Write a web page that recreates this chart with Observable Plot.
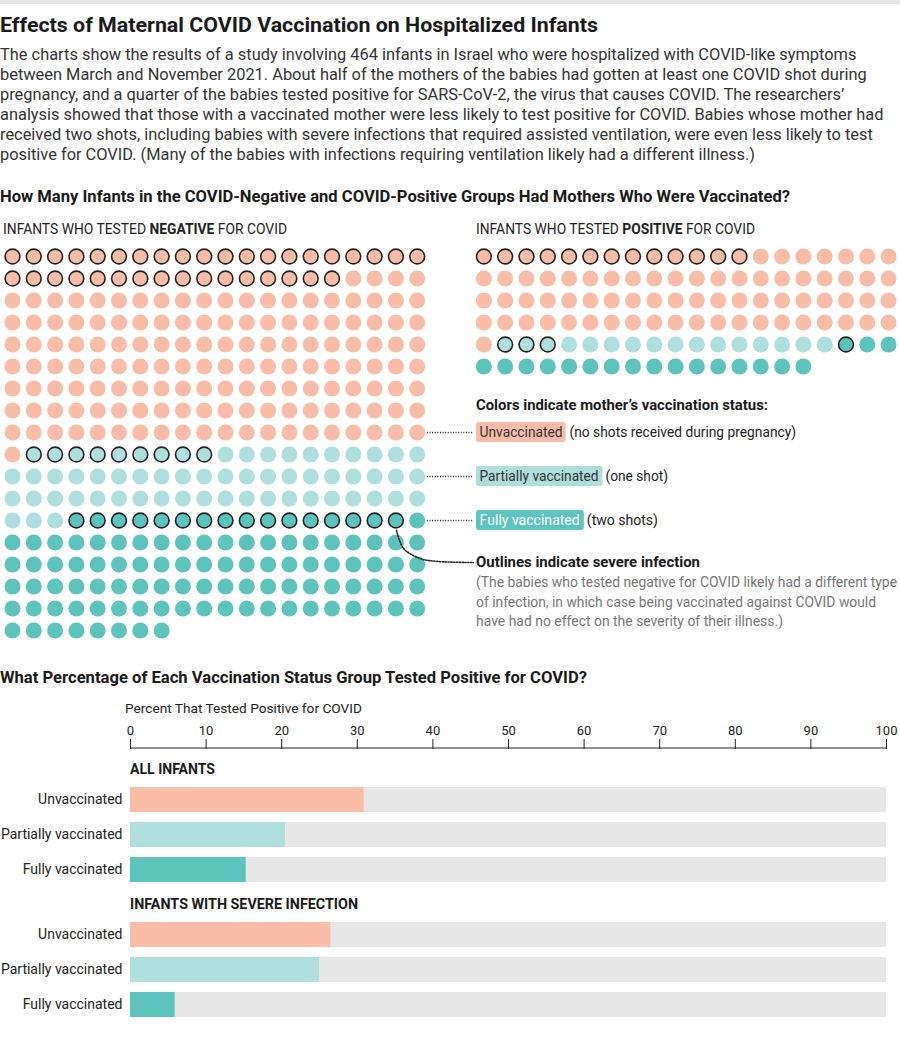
<!DOCTYPE html>
<html><head><meta charset="utf-8">
<script src="https://cdn.jsdelivr.net/npm/d3@7"></script>
<script src="https://cdn.jsdelivr.net/npm/@observablehq/plot@0.6"></script>
<style>
html,body{margin:0;padding:0;background:#fff;}
#root{position:relative;width:900px;height:1048px;overflow:hidden;font-family:Roboto,"Noto Sans",sans-serif;color:#333;}
.abs{position:absolute;white-space:nowrap;}
.hd{font-family:Roboto,"Noto Sans",sans-serif;font-weight:700;color:#1a1a1a;}
.tag{display:inline-block;padding:0 4px;border-radius:3px;line-height:20px;}
</style>
</head><body>
<div id="root"></div>
<script>
// ---------- data ----------
const statuses = ["Unvaccinated", "Partially vaccinated", "Fully vaccinated"];
const colors = ["#f9bda7", "#aedfdc", "#5cc4bd"];
// waffle counts (infants), in status order
const negSevere = [36, 9, 16];
const negMild = [145, 53, 89];
const posSevere = [13, 3, 1];
const posMild = [68, 13, 18];
// percent that tested positive
const pctAll = [30.9, 20.5, 15.3];
const pctSevere = [26.5, 25.0, 5.9];
const xTicks = [0, 10, 20, 30, 40, 50, 60, 70, 80, 90, 100];

const bodyLines = [
  "The charts show the results of a study involving 464 infants in Israel who were hospitalized with COVID-like symptoms",
  "between March and November 2021. About half of the mothers of the babies had gotten at least one COVID shot during",
  "pregnancy, and a quarter of the babies tested positive for SARS-CoV-2, the virus that causes COVID. The researchers’",
  "analysis showed that those with a vaccinated mother were less likely to test positive for COVID. Babies whose mother had",
  "received two shots, including babies with severe infections that required assisted ventilation, were even less likely to test",
  "positive for COVID. (Many of the babies with infections requiring ventilation likely had a different illness.)"
];
const noteLines = [
  "(The babies who tested negative for COVID likely had a different type",
  "of infection, in which case being vaccinated against COVID would",
  "have had no effect on the severity of their illness.)"
];

// ---------- layout helpers ----------
const root = document.getElementById("root");
function add(html, css, cls = "abs", fit) {
  const d = document.createElement("div");
  d.className = cls;
  d.innerHTML = html;
  Object.assign(d.style, css);
  root.appendChild(d);
  if (fit) {
    const w = d.getBoundingClientRect().width;
    if (w > 0) { d.style.transformOrigin = "0 0"; d.style.transform = `scaleX(${fit / w})`; }
  }
  return d;
}
function place(node, left, top) {
  const w = document.createElement("div");
  w.className = "abs";
  w.style.left = left + "px"; w.style.top = top + "px";
  w.appendChild(node);
  root.appendChild(w);
}

add("", {left: "0px", top: "0px", width: "900px", height: "4px", background: "#e6e6e6"});
add("Effects of Maternal COVID Vaccination on Hospitalized Infants",
  {left: "0px", top: "12px", fontSize: "20.5px", lineHeight: "26px"}, "abs hd", 598);
bodyLines.forEach((l, i) => add(l, {left: "0px", top: (45 + i * 19.95) + "px", fontSize: "16.4px", lineHeight: "20px", color: "#333"}));
add("How Many Infants in the COVID-Negative and COVID-Positive Groups Had Mothers Who Were Vaccinated?",
  {left: "0px", top: "184px", fontSize: "17px", lineHeight: "24px"}, "abs hd", 790);
add("INFANTS WHO TESTED <b>NEGATIVE</b> FOR COVID",
  {left: "3px", top: "220px", fontSize: "14.5px", lineHeight: "20px", color: "#222"}, "abs", 284);
add("INFANTS WHO TESTED <b>POSITIVE</b> FOR COVID",
  {left: "476px", top: "220px", fontSize: "14.5px", lineHeight: "20px", color: "#222"}, "abs", 279);

// ---------- waffle ----------
const perRow = 20;
const posOffset = 22.13; // column offset of the positive group
function cellsFor(severe, mild, offset, group) {
  const out = [];
  let i = 0;
  statuses.forEach((s, k) => {
    for (let j = 0; j < severe[k]; j++, i++) out.push({group, status: s, severe: true, cx: offset + (i % perRow), row: Math.floor(i / perRow)});
    for (let j = 0; j < mild[k]; j++, i++) out.push({group, status: s, severe: false, cx: offset + (i % perRow), row: Math.floor(i / perRow)});
  });
  return out;
}
const cells = [...cellsFor(negSevere, negMild, 0, "negative"), ...cellsFor(posSevere, posMild, posOffset, "positive")];
const legendCol = 21.64;
const leaders = [{status: "Unvaccinated", row: 8}, {status: "Partially vaccinated", row: 10}, {status: "Fully vaccinated", row: 12}];
const curvePts = [{x: 18.03, y: 12.45}, {x: 18.36, y: 13.27}, {x: 19.15, y: 13.73}, {x: 19.95, y: 13.86}, {x: legendCol, y: 13.91}];

const waffle = Plot.plot({
  width: 900, height: 405, margin: 0,
  x: {domain: [-0.5634, 41.69], range: [0, 900], axis: null},
  y: {domain: [-0.7273, 17.682], range: [0, 405], axis: null},
  color: {domain: statuses, range: colors},
  marks: [
    Plot.dot(cells.filter(d => !d.severe), {x: "cx", y: "row", r: 8, fill: "status"}),
    Plot.dot(cells.filter(d => d.severe), {x: "cx", y: "row", r: 7.4, fill: "status", stroke: "#222", strokeWidth: 1.6}),
    Plot.ruleY(leaders, {y: "row", x1: 19.48, x2: legendCol, stroke: "#222", strokeWidth: 1.4, strokeDasharray: "1,1.6"}),
    Plot.line(curvePts, {x: "x", y: "y", curve: "catmull-rom", stroke: "#222", strokeWidth: 1.6, strokeDasharray: "1.2,1.6"})
  ]
});
place(waffle, 0, 240);

// ---------- legend ----------
add("Colors indicate mother’s vaccination status:",
  {left: "476px", top: "395px", fontSize: "15.5px", lineHeight: "20px"}, "abs hd", 292);
add(`<span class="tag" style="background:${colors[0]};color:#333">Unvaccinated</span> (no shots received during pregnancy)`,
  {left: "476px", top: "422px", fontSize: "15.5px", lineHeight: "21px", color: "#222"}, "abs", 320);
add(`<span class="tag" style="background:${colors[1]};color:#333">Partially vaccinated</span> (one shot)`,
  {left: "476px", top: "466px", fontSize: "15.5px", lineHeight: "21px", color: "#222"}, "abs", 192);
add(`<span class="tag" style="background:${colors[2]};color:#fff">Fully vaccinated</span> (two shots)`,
  {left: "476px", top: "510px", fontSize: "15.5px", lineHeight: "21px", color: "#222"}, "abs", 182);
add("Outlines indicate severe infection",
  {left: "476px", top: "552px", fontSize: "15.5px", lineHeight: "20px"}, "abs hd", 224);
const noteW = [421, 400, 307];
noteLines.forEach((l, i) => add(l, {left: "476px", top: (573 + i * 19.5) + "px", fontSize: "15px", lineHeight: "19.5px", color: "#777"}, "abs", noteW[i]));

// ---------- bars ----------
add("What Percentage of Each Vaccination Status Group Tested Positive for COVID?",
  {left: "0px", top: "665px", fontSize: "17px", lineHeight: "24px"}, "abs hd", 587);
add("Percent That Tested Positive for COVID",
  {left: "125px", top: "700px", fontSize: "13px", lineHeight: "18px", color: "#222"}, "abs", 237);

function barPlot(values, withAxis) {
  const data = statuses.map((s, i) => ({status: s, value: values[i]}));
  const marks = [
    Plot.barX(data, {y: "status", x1: 0, x2: 100, fill: "#e6e6e6"}),
    Plot.barX(data, {y: "status", x1: 0, x2: "value", fill: "status"}),
    Plot.axisY({tickSize: 0, tickPadding: 8, fontSize: 14, label: null, color: "#222"})
  ];
  if (withAxis) {
    marks.push(Plot.axisX({anchor: "top", ticks: xTicks, tickSize: 10, tickPadding: 4, fontSize: 13, label: null, color: "#222"}));
    marks.push((index, scales, values, dims) => {
      const l = document.createElementNS("http://www.w3.org/2000/svg", "line");
      l.setAttribute("x1", scales.x(0)); l.setAttribute("x2", scales.x(100));
      l.setAttribute("y1", dims.marginTop); l.setAttribute("y2", dims.marginTop);
      l.setAttribute("stroke", "#222"); l.setAttribute("stroke-width", "1");
      return l;
    });
  }
  return Plot.plot({
    width: 900, height: withAxis ? 195 : 118,
    marginLeft: 130, marginRight: 14, marginTop: withAxis ? 48 : 0, marginBottom: 0,
    style: {fontFamily: "Roboto, sans-serif", color: "#222"},
    x: {domain: [0, 100], axis: null},
    y: {domain: statuses, range: withAxis ? [77, 192] : [0, 115], padding: 0.2857},
    color: {domain: statuses, range: colors},
    marks
  });
}
place(barPlot(pctAll, true), 0, 700);
add("ALL INFANTS", {left: "130px", top: "760px", fontSize: "14.5px", lineHeight: "20px"}, "abs hd", 85);
add("INFANTS WITH SEVERE INFECTION", {left: "130px", top: "895px", fontSize: "14.5px", lineHeight: "20px"}, "abs hd", 228);
place(barPlot(pctSevere, false), 0, 912);
</script>
</body></html>
